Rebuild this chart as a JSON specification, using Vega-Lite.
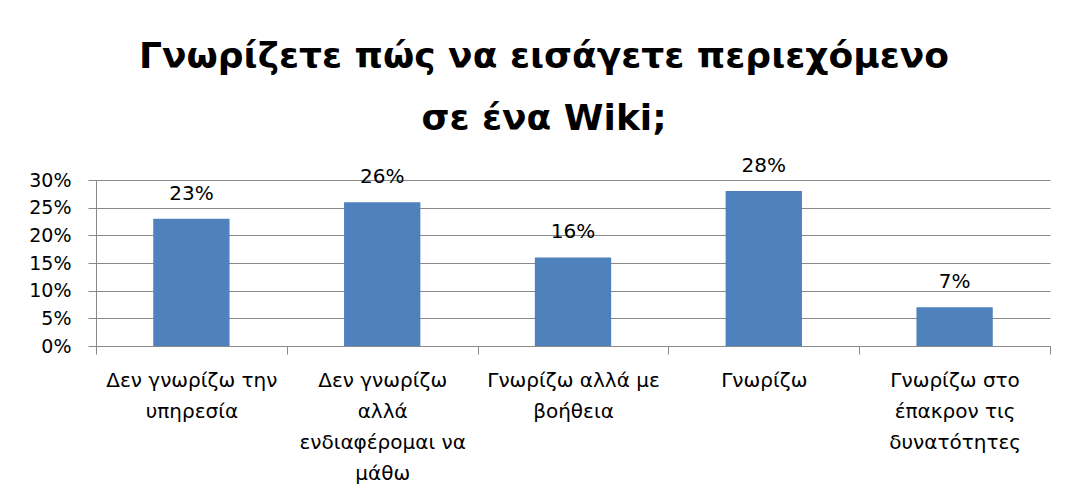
{
  "$schema": "https://vega.github.io/schema/vega-lite/v6.json",
  "autosize": {"type": "none"},
  "width": 954,
  "height": 166,
  "padding": {"left": 96, "top": 180, "right": 18, "bottom": 158},
  "background": "white",
  "title": {
    "text": ["Γνωρίζετε πώς να εισάγετε περιεχόμενο", "σε ένα Wiki;"],
    "font": "DejaVu Sans",
    "fontSize": 36,
    "fontWeight": "bold",
    "color": "black",
    "lineHeight": 62,
    "anchor": "middle",
    "dx": -29,
    "offset": 18
  },
  "data": {
    "values": [
      {"answer": "Δεν γνωρίζω την\nυπηρεσία", "share": 0.23},
      {"answer": "Δεν γνωρίζω\nαλλά\nενδιαφέρομαι να\nμάθω", "share": 0.26},
      {"answer": "Γνωρίζω αλλά με\nβοήθεια", "share": 0.16},
      {"answer": "Γνωρίζω", "share": 0.28},
      {"answer": "Γνωρίζω στο\nέπακρον τις\nδυνατότητες", "share": 0.07}
    ]
  },
  "encoding": {
    "x": {
      "field": "answer",
      "type": "nominal",
      "sort": null,
      "scale": {"paddingInner": 0, "paddingOuter": 0},
      "axis": {
        "title": null,
        "labelAngle": 0,
        "labelExpr": "split(datum.label, '\\n')",
        "labelFont": "DejaVu Sans",
        "labelFontSize": 20,
        "labelColor": "black",
        "labelLineHeight": 31,
        "labelPadding": 16,
        "labelLimit": 300,
        "tickBand": "extent",
        "tickSize": 8,
        "tickColor": "#898989",
        "domainColor": "#898989",
        "grid": false
      }
    },
    "y": {
      "field": "share",
      "type": "quantitative",
      "scale": {"domain": [0, 0.3], "nice": false},
      "axis": {
        "title": null,
        "format": ".0%",
        "values": [0, 0.05, 0.1, 0.15, 0.2, 0.25, 0.3],
        "labelFont": "DejaVu Sans",
        "labelFontSize": 19,
        "labelColor": "black",
        "labelPadding": 17,
        "tickSize": 8,
        "tickColor": "#898989",
        "domainColor": "#898989",
        "gridColor": "#898989",
        "grid": true
      }
    }
  },
  "layer": [
    {"mark": {"type": "bar", "color": "#4F81BD", "width": {"band": 0.4}}},
    {
      "mark": {
        "type": "text",
        "baseline": "alphabetic",
        "dy": -19,
        "font": "DejaVu Sans",
        "fontSize": 20,
        "color": "black"
      },
      "encoding": {"text": {"field": "share", "type": "quantitative", "format": ".0%"}}
    }
  ],
  "config": {"view": {"stroke": null}}
}
